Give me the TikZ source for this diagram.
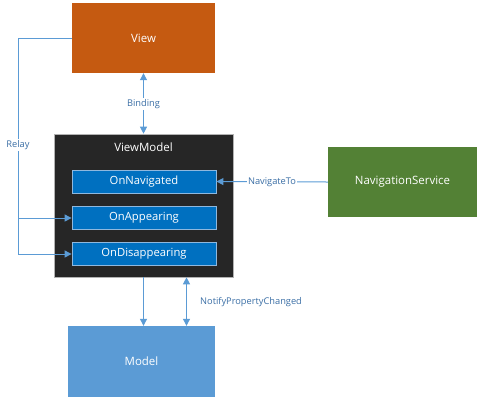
\documentclass[tikz,border=0pt]{standalone}
\usepackage{fontspec}
\setmainfont{Open Sans}
\usetikzlibrary{arrows.meta,calc}
\definecolor{vieworange}{HTML}{C55A11}
\definecolor{vmdark}{HTML}{262626}
\definecolor{innerblue}{HTML}{0070C0}
\definecolor{innerborder}{HTML}{8FB8DE}
\definecolor{navgreen}{HTML}{538135}
\definecolor{modelblue}{HTML}{5B9BD5}
\definecolor{linecol}{HTML}{5B9BD5}
\definecolor{lblcol}{HTML}{3A6EA5}
\tikzset{
  bigbox/.style={rectangle, inner sep=0pt, text=white, font=\fontsize{11.5}{13}\selectfont},
  innerbox/.style={rectangle, inner sep=0pt, fill=innerblue, draw=innerborder, line width=0.8bp, text=white,
     minimum width=144bp, minimum height=23bp, font=\fontsize{11.3}{13}\selectfont},
  conn/.style={draw=linecol, line width=1bp},
  arr/.style={conn, -{Triangle[width=7bp,length=7bp]}},
  dbl/.style={conn, {Triangle[width=7bp,length=7bp]}-{Triangle[width=7bp,length=7bp]}},
  lbl/.style={text=lblcol, font=\fontsize{9.3}{11}\selectfont, inner sep=1bp}
}
\begin{document}
\begin{tikzpicture}[x=1bp,y=-1bp]
\useasboundingbox (0,0) rectangle (478,405);
\node[bigbox, fill=vieworange, minimum width=143bp, minimum height=70bp] (view) at (143.5,38) {View};
\node[bigbox, fill=vmdark, draw=gray!60, line width=0.6bp, minimum width=179bp, minimum height=143bp] (vm) at (143.5,205.5) {};
\node[text=white, font=\fontsize{11.5}{13}\selectfont, inner sep=0pt] (vmtitle) at (143.5,147) {ViewModel};
\node[innerbox] (onnav) at (144,181.5) {OnNavigated};
\node[innerbox] (onapp) at (144,218) {OnAppearing};
\node[innerbox] (ondis) at (144,254) {OnDisappearing};
\node[bigbox, fill=navgreen, minimum width=149bp, minimum height=70bp] (nav) at (402.5,182) {NavigationService};
\node[bigbox, fill=modelblue, minimum width=147bp, minimum height=71bp] (model) at (141.5,361.5) {Model};
% Relay
\coordinate (rx) at (18,38);
\draw[arr] (view.west) -| (rx |- ondis.west) -- (ondis.west);
\draw[arr] (rx |- onapp.west) -- (onapp.west);
\node[lbl, fill=white] (relay) at (18,145) {Relay};
% Binding
\draw[dbl] (view.south) -- (vm.north);
\node[lbl, fill=white] (binding) at (143.5,104) {Binding};
% NavigateTo
\draw[arr] (nav.west) -- (onnav.east);
\node[lbl, fill=white] (navto) at (272,182) {NavigateTo};
% Model arrows
\draw[arr] (vm.south) -- (vm.south |- model.north);
\draw[dbl] ($(vm.south)+(43,0)$) -- ($(vm.south |- model.north)+(43,0)$);
\node[lbl, anchor=west] (npc) at (199,302) {NotifyPropertyChanged};
\end{tikzpicture}
\end{document}
